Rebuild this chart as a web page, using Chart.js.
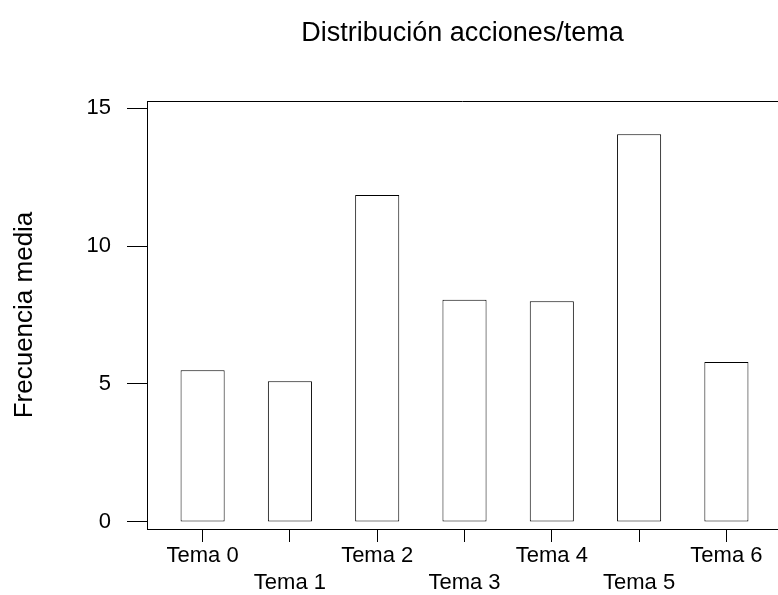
<!DOCTYPE html>
<html>
<head>
<meta charset="utf-8">
<script src="https://cdn.jsdelivr.net/npm/chart.js@4/dist/chart.umd.min.js"></script>
<style>
  html, body { margin: 0; padding: 0; background: #ffffff; }
  canvas { display: block; }
</style>
</head>
<body>
<canvas id="chart" width="778" height="595"></canvas>
<script>
// Mean frequency of actions per topic
const categories = ["Tema 0", "Tema 1", "Tema 2", "Tema 3", "Tema 4", "Tema 5", "Tema 6"];
const meanFrequency = [5.5, 5.1, 11.85, 8.05, 8.0, 14.05, 5.8];
const yTicks = [0, 5, 10, 15];

const FONT = "'Liberation Sans', Arial, Helvetica, sans-serif";
const INK = "#000000";

// Closes the plot box along its top edge (left and bottom come from the axes)
const topFrame = {
  id: "topFrame",
  afterDatasetsDraw(chart) {
    const { ctx, chartArea } = chart;
    ctx.save();
    ctx.strokeStyle = INK;
    ctx.lineWidth = 1;
    ctx.beginPath();
    ctx.moveTo(chartArea.left, Math.round(chartArea.top) + 0.5);
    ctx.lineTo(chartArea.right, Math.round(chartArea.top) + 0.5);
    ctx.stroke();
    ctx.restore();
  }
};

new Chart(document.getElementById("chart"), {
  type: "bar",
  data: {
    datasets: [{
      data: meanFrequency.map((v, i) => ({ x: i, y: v })),
      backgroundColor: "#ffffff",
      borderColor: INK,
      borderWidth: 1,
      borderSkipped: false,
      categoryPercentage: 1,
      barPercentage: 0.505
    }]
  },
  options: {
    responsive: false,
    animation: false,
    devicePixelRatio: 1,
    layout: { padding: 0 },
    plugins: {
      legend: { display: false },
      tooltip: { enabled: false },
      title: {
        display: true,
        text: "Distribución acciones/tema",
        fullSize: false,
        color: INK,
        font: { family: FONT, size: 27, weight: "normal", lineHeight: 1.2 },
        padding: { top: 17, bottom: 51.6 }
      }
    },
    scales: {
      x: {
        type: "linear",
        offset: false,
        min: -0.637,
        max: 6.591,
        afterBuildTicks(axis) {
          axis.ticks = categories.map((c, i) => ({ value: i }));
        },
        afterFit(axis) { axis.height = 66; },
        ticks: {
          autoSkip: false,
          maxRotation: 0,
          minRotation: 0,
          padding: 1,
          color: INK,
          font: { family: FONT, size: 22, lineHeight: 1.2 },
          callback(value) {
            const i = Math.round(value);
            return i % 2 === 0 ? categories[i] : ["", categories[i]];
          }
        },
        grid: {
          display: true,
          offset: false,
          drawOnChartArea: false,
          drawTicks: true,
          tickLength: 13,
          color: INK,
          lineWidth: 1
        },
        border: { display: true, color: INK, width: 1 }
      },
      y: {
        type: "linear",
        min: -0.254,
        max: 15.254,
        afterBuildTicks(axis) {
          axis.ticks = yTicks.map(v => ({ value: v }));
        },
        afterFit(axis) { axis.width = 147; },
        ticks: {
          padding: 16,
          color: INK,
          font: { family: FONT, size: 22 }
        },
        grid: {
          display: true,
          drawOnChartArea: false,
          drawTicks: true,
          tickLength: 20,
          color: INK,
          lineWidth: 1
        },
        border: { display: true, color: INK, width: 1 },
        title: {
          display: true,
          text: "Frecuencia media",
          color: INK,
          font: { family: FONT, size: 26, lineHeight: 1.2 },
          padding: { top: 9, bottom: 0 }
        }
      }
    }
  },
  plugins: [topFrame]
});
</script>
</body>
</html>
